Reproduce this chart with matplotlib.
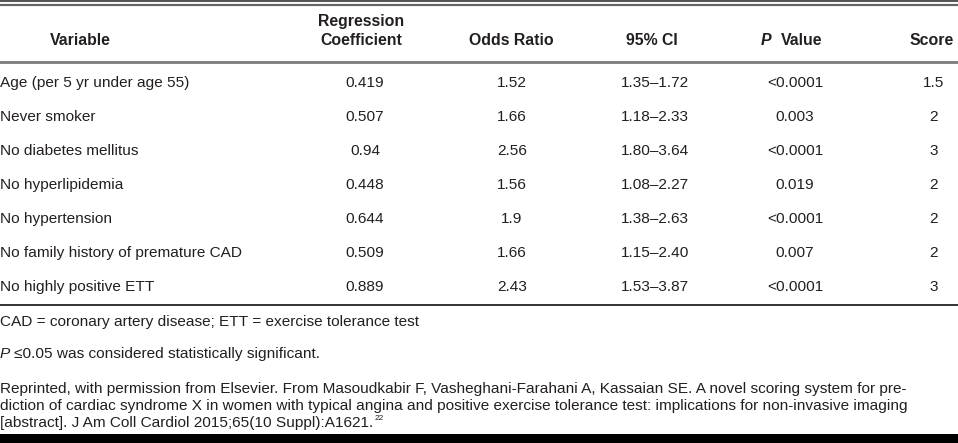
import matplotlib
matplotlib.use("Agg")
import matplotlib.pyplot as plt

# -----------------------------
#  Table content
# -----------------------------
variables = ["Age (per 5 yr under age 55)", "Never smoker", "No diabetes mellitus",
             "No hyperlipidemia", "No hypertension",
             "No family history of premature CAD", "No highly positive ETT"]
coefs = ["0.419", "0.507", "0.94", "0.448", "0.644", "0.509", "0.889"]
odds = ["1.52", "1.66", "2.56", "1.56", "1.9", "1.66", "2.43"]
cis = ["1.35\u20131.72", "1.18\u20132.33", "1.80\u20133.64", "1.08\u20132.27",
       "1.38\u20132.63", "1.15\u20132.40", "1.53\u20133.87"]
pvals = ["<0.0001", "0.003", "<0.0001", "0.019", "<0.0001", "0.007", "<0.0001"]
scores = ["1.5", "2", "3", "2", "2", "2", "3"]

footnote1 = "CAD = coronary artery disease; ETT = exercise tolerance test"
footnote2 = "\u22640.05 was considered statistically significant."
source = ["Reprinted, with permission from Elsevier. From Masoudkabir F, Vasheghani-Farahani A, "
          "Kassaian SE. A novel scoring system for pre-",
          "diction of cardiac syndrome X in women with typical angina and positive exercise "
          "tolerance test: implications for non-invasive imaging",
          "[abstract]. J Am Coll Cardiol 2015;65(10 Suppl):A1621."]

plt.rcParams['font.family'] = ['Liberation Sans', 'DejaVu Sans']
TXT = '#231f20'
FS = 11.1
HFS = 11.4

fig = plt.figure(figsize=(9.58, 4.43), dpi=100)
ax = fig.add_axes([0, 0, 1, 1])
ax.set_xlim(0, 958)
ax.set_ylim(443, 0)
ax.axis('off')

# rules
ax.axhline(0.6, color='#333333', lw=1.2)
ax.axhline(4.5, color='#666666', lw=1.6)
ax.axhline(61.5, color='#7a7a7a', lw=2.0)
ax.axhline(304.5, color='#111111', lw=1.2)
ax.axhspan(434, 443, color='#000000', lw=0)

# header
hdr = dict(fontsize=HFS, fontweight='bold', color=TXT, va='center')
ax.text(80, 40, "Variable", ha='center', **hdr)
ax.text(361, 21, "Regression", ha='center', **hdr)
ax.text(361, 40, "Coefficient", ha='center', **hdr)
ax.text(511, 40, "Odds Ratio", ha='center', **hdr)
ax.text(652, 40, "95% CI", ha='center', **hdr)
ax.text(771, 40, "P", ha='right', fontstyle='italic', **hdr)
ax.text(781, 40, "Value", ha='left', **hdr)
ax.text(932, 40, "Score", ha='center', **hdr)

# rows
cols = [(coefs, 365), (odds, 512), (cis, 655), (pvals, 795), (scores, 934)]
for i, var in enumerate(variables):
    y = 83 + i * 34
    ax.text(0, y, var, ha='left', va='center', fontsize=FS, color=TXT)
    for vals, x in cols:
        ax.text(x, y, vals[i], ha='center', va='center', fontsize=FS, color=TXT)

# footnotes
ax.text(0, 322, footnote1, ha='left', va='center', fontsize=FS, color=TXT)
ax.text(0, 354, "P", ha='left', va='center', fontsize=FS, color=TXT, fontstyle='italic')
ax.text(14, 354, footnote2, ha='left', va='center', fontsize=FS, color=TXT)
last = None
for j, line in enumerate(source):
    last = ax.text(0, 389 + j * 17, line, ha='left', va='center', fontsize=FS, color=TXT)

# superscript reference number after the last source line
fig.canvas.draw()
bb = last.get_window_extent(renderer=fig.canvas.get_renderer())
x_end = ax.transData.inverted().transform((bb.x1, bb.y1))[0]
ax.text(x_end + 1, 419, "22", ha='left', va='center', fontsize=6, color=TXT)

fig.savefig("out.png", dpi=100)
